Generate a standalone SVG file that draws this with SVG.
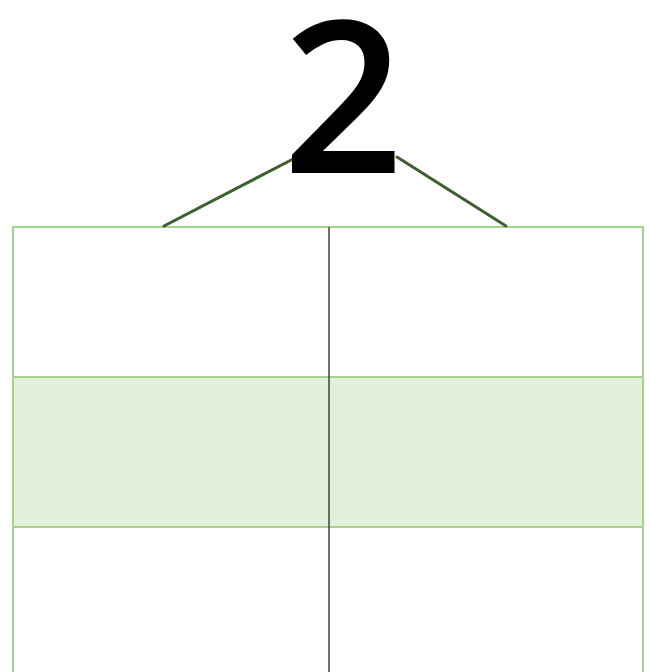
<svg xmlns="http://www.w3.org/2000/svg" width="650" height="672" viewBox="0 0 650 672">
<style>
.cell{stroke:#a9d18e;stroke-width:2}
.conn{stroke:#3f5f2f;stroke-width:3;stroke-linecap:round;fill:none}
.num{font-family:"Open Sans","Noto Sans",sans-serif;font-size:212px;font-weight:600;fill:#000}
</style>
<rect width="650" height="672" fill="#fff"/>
<g id="table">
<rect class="cell" x="13" y="227" width="630" height="150" fill="#fff"/>
<rect class="cell" x="13" y="377" width="630" height="150" fill="#e2efda"/>
<rect class="cell" x="13" y="527" width="630" height="150" fill="#fff"/>
<line x1="329" y1="227" x2="329" y2="672" stroke="#404040" stroke-width="1.5"/>
</g>
<g id="connectors">
<line class="conn" x1="164" y1="226" x2="297" y2="157"/>
<line class="conn" x1="397" y1="157" x2="506" y2="226"/>
</g>
<g id="node-2">
<text class="num" x="343" y="173" text-anchor="middle">2</text>
</g>
</svg>
